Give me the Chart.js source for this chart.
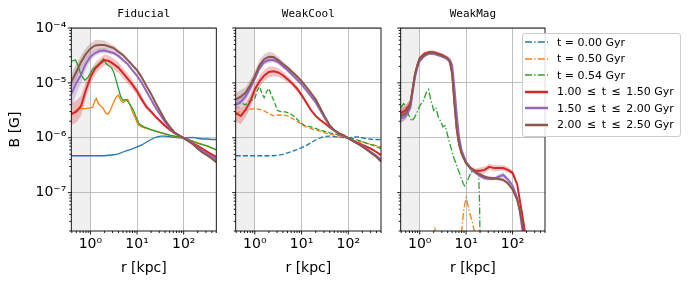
<!DOCTYPE html>
<html><head><meta charset="utf-8">
<script src="https://cdn.jsdelivr.net/npm/chart.js@4/dist/chart.umd.min.js"></script>
<style>
body{margin:0;background:#fff;width:691px;height:286px;overflow:hidden;position:relative;font-family:"DejaVu Sans",sans-serif;}
canvas{position:absolute;top:0;}
#legend{position:absolute;left:522px;top:33px;width:159px;height:104px;box-sizing:border-box;border:1px solid #cccccc;border-radius:3px;background:rgba(255,255,255,0.85);padding-top:0;}
.row{display:flex;align-items:center;height:16.5px;font-size:11px;white-space:pre;color:#000;}
.row svg{margin-left:2px;margin-right:9px;flex:none;}
</style></head><body>
<canvas id="c1" width="225" height="286" style="left:0"></canvas>
<canvas id="c2" width="165" height="286" style="left:225px"></canvas>
<canvas id="c3" width="160" height="286" style="left:390px"></canvas>
<div id="legend"></div>
<script>
// ---------- axes ----------
const X_MIN = 0.39, X_MAX = 500, Y_MIN = 2e-8, Y_MAX = 1e-4;
const SHADE_MAX = 1;
const X_TICKS = [1, 10, 100];
const X_LABELS = ['10\u2070', '10\u00b9', '10\u00b2'];
const Y_TICKS = [1e-7, 1e-6, 1e-5, 1e-4];
const Y_LABELS = ['10\u207b\u2077', '10\u207b\u2076', '10\u207b\u2075', '10\u207b\u2074'];
const PANEL_TITLES = ['Fiducial', 'WeakCool', 'WeakMag'];
const LEGEND_LABELS = ['t = 0.00 Gyr', 't = 0.50 Gyr', 't = 0.54 Gyr',
  '1.00\u2002\u2264\u2002t\u2002\u2264\u20021.50 Gyr',
  '1.50\u2002\u2264\u2002t\u2002\u2264\u20022.00 Gyr',
  '2.00\u2002\u2264\u2002t\u2002\u2264\u20022.50 Gyr'];

// ---------- radius grids (kpc) ----------
const R = [0.39,0.5,0.63,0.79,1,1.26,1.58,2,2.51,3.16,3.98,5.01,6.31,7.94,10,12.6,15.8,20,25.1,31.6,39.8,50.1,63.1,79.4,100,126,158,200,251,316,398,500];
const R3 = [0.39,0.5,0.63,0.71,0.79,0.89,1,1.26,1.58,2,2.51,3.16,3.98,4.47,5.01,5.62,6.31,7.08,7.94,10,12.6,15.8,20,25.1,31.6,39.8,50.1,63.1,79.4,100,126,141,158,178,200,224];

// ---------- Fiducial (B in G) ----------
const fidBlue = [4.7e-7,4.7e-7,4.7e-7,4.7e-7,4.7e-7,4.7e-7,4.7e-7,4.7e-7,4.8e-7,4.9e-7,5.1e-7,5.5e-7,5.9e-7,6.3e-7,6.8e-7,7.4e-7,8.3e-7,9.3e-7,1.02e-6,1.07e-6,1.07e-6,1.05e-6,1.02e-6,1.0e-6,1.0e-6,1.0e-6,1.02e-6,9.8e-7,9.5e-7,9.5e-7,9.3e-7,9.3e-7];
const fidOrangeR = [0.39,0.5,0.63,0.79,1,1.12,1.26,1.35,1.48,1.66,1.86,2.14,2.4,2.69,3.16,3.63,3.98,4.47,5.01,5.62,6.31,7.08,7.94,9.12,10.5,12.6,15.8,22.4,31.6,50.1,79.4,100,158,251,355,500];
const fidOrange = [2.6e-6,3.2e-6,3.4e-6,3.4e-6,3.5e-6,3.6e-6,4.8e-6,5.2e-6,4.2e-6,3.8e-6,3.5e-6,2.8e-6,2.7e-6,3.2e-6,4.5e-6,5.6e-6,6.0e-6,4.8e-6,4.4e-6,4.7e-6,5.0e-6,4.0e-6,3.0e-6,2.3e-6,1.74e-6,1.58e-6,1.48e-6,1.35e-6,1.23e-6,1.1e-6,1.02e-6,1.0e-6,8.7e-7,7.6e-7,6.8e-7,6.0e-7];
const fidGreenR = [0.39,0.48,0.54,0.63,0.76,0.89,1.12,1.41,1.66,1.91,2.14,2.4,2.82,3.16,3.55,3.98,4.47,5.01,5.89,7.08,8.32,9.55,11.2,14.1,20,31.6,50.1,100,200,316,500];
const fidGreen = [2.5e-5,2.6e-5,2.1e-5,1.4e-5,1.12e-5,1.26e-5,1.78e-5,2.1e-5,2.4e-5,2.75e-5,2.3e-5,2.1e-5,1.9e-5,1.58e-5,1.12e-5,7.9e-6,5.6e-6,4.8e-6,5.0e-6,4.0e-6,3.2e-6,2.4e-6,1.78e-6,1.58e-6,1.41e-6,1.26e-6,1.12e-6,1.0e-6,7.9e-7,7.1e-7,6.0e-7];
const fidRed = [2.7e-6,3.0e-6,3.8e-6,7.1e-6,1.26e-5,1.8e-5,2.2e-5,2.6e-5,2.5e-5,2.2e-5,1.9e-5,1.5e-5,1.2e-5,9.3e-6,7.1e-6,5.0e-6,3.7e-6,3.0e-6,2.4e-6,2.0e-6,1.66e-6,1.4e-6,1.23e-6,1.1e-6,1.0e-6,8.9e-7,7.9e-7,7.1e-7,6.3e-7,5.6e-7,5.0e-7,4.5e-7];
const fidPurple = [6.3e-6,1.0e-5,1.4e-5,2.2e-5,3.0e-5,3.5e-5,3.8e-5,3.9e-5,3.7e-5,3.5e-5,3.1e-5,2.6e-5,2.2e-5,1.7e-5,1.35e-5,1.0e-5,7.1e-6,5.0e-6,3.5e-6,2.6e-6,1.95e-6,1.5e-6,1.23e-6,1.1e-6,9.8e-7,8.9e-7,7.8e-7,6.6e-7,5.8e-7,5.1e-7,4.6e-7,4.0e-7];
const fidBrown = [1.05e-5,1.6e-5,2.4e-5,3.3e-5,4.2e-5,4.8e-5,4.9e-5,4.9e-5,4.6e-5,4.3e-5,3.7e-5,3.2e-5,2.6e-5,2.1e-5,1.7e-5,1.26e-5,8.9e-6,6.3e-6,4.3e-6,3.0e-6,2.1e-6,1.6e-6,1.26e-6,1.1e-6,9.8e-7,8.7e-7,7.6e-7,6.3e-7,5.4e-7,4.8e-7,4.2e-7,3.6e-7];
// band half-widths (dex)
const fidRedSpread = [0.2,0.2,0.18,0.15,0.12,0.11,0.1,0.1,0.1,0.1,0.1,0.09,0.09,0.08,0.07,0.06,0.05,0.04,0.03,0.03,0.02,0.02,0.02,0.02,0.02,0.02,0.02,0.02,0.02,0.02,0.02,0.02];
const fidPurpleSpread = [0.25,0.2,0.15,0.1,0.07,0.06,0.05,0.05,0.04,0.04,0.04,0.03,0.03,0.03,0.03,0.03,0.02,0.02,0.02,0.02,0.02,0.02,0.02,0.02,0.02,0.02,0.02,0.02,0.02,0.02,0.02,0.02];
const fidBrownSpread = [0.15,0.13,0.12,0.11,0.1,0.1,0.09,0.08,0.06,0.05,0.04,0.04,0.03,0.03,0.03,0.03,0.02,0.02,0.02,0.02,0.02,0.02,0.02,0.02,0.02,0.02,0.02,0.02,0.02,0.02,0.02,0.02];

// ---------- WeakCool ----------
const wkcBlue = [4.7e-7,4.7e-7,4.7e-7,4.7e-7,4.7e-7,4.7e-7,4.7e-7,4.7e-7,4.7e-7,4.8e-7,5.0e-7,5.3e-7,5.7e-7,6.1e-7,6.6e-7,7.2e-7,8.1e-7,9.1e-7,1.0e-6,1.06e-6,1.07e-6,1.05e-6,1.03e-6,1.01e-6,1.0e-6,1.02e-6,1.04e-6,1.0e-6,9.6e-7,9.4e-7,9.3e-7,9.2e-7];
const wkcOrange = [2.8e-6,3.0e-6,3.16e-6,3.3e-6,3.4e-6,3.3e-6,3.1e-6,2.75e-6,2.5e-6,2.6e-6,2.6e-6,2.5e-6,2.24e-6,2.0e-6,1.74e-6,1.58e-6,1.48e-6,1.38e-6,1.32e-6,1.23e-6,1.17e-6,1.12e-6,1.07e-6,1.02e-6,9.8e-7,9.1e-7,8.7e-7,8.3e-7,7.9e-7,7.6e-7,7.2e-7,6.8e-7];
const wkcGreenR = [0.39,0.5,0.63,0.79,1,1.12,1.26,1.41,1.58,1.78,2.0,2.24,2.63,3.02,3.55,4.47,5.62,7.08,8.91,11.2,15.8,25.1,39.8,63.1,100,158,251,398,500];
const wkcGreen = [4.0e-6,4.3e-6,4.0e-6,4.7e-6,5.2e-6,7.1e-6,8.5e-6,6.6e-6,5.4e-6,6.9e-6,7.9e-6,6.0e-6,4.5e-6,3.16e-6,3.0e-6,2.95e-6,2.8e-6,2.4e-6,2.0e-6,1.7e-6,1.58e-6,1.38e-6,1.23e-6,1.12e-6,1.02e-6,9.1e-7,7.9e-7,6.9e-7,6.3e-7];
const wkcRed = [2.8e-6,2.5e-6,3.2e-6,4.5e-6,7.6e-6,1.07e-5,1.35e-5,1.58e-5,1.62e-5,1.55e-5,1.38e-5,1.17e-5,9.8e-6,7.9e-6,6.0e-6,4.4e-6,3.2e-6,2.5e-6,2.1e-6,1.82e-6,1.55e-6,1.35e-6,1.2e-6,1.1e-6,9.8e-7,8.9e-7,8.1e-7,7.4e-7,6.8e-7,6.2e-7,5.5e-7,4.8e-7];
const wkcPurple = [4.0e-6,4.5e-6,5.6e-6,7.9e-6,1.2e-5,1.86e-5,2.4e-5,2.6e-5,2.6e-5,2.4e-5,2.0e-5,1.7e-5,1.41e-5,1.15e-5,9.3e-6,7.4e-6,5.75e-6,4.4e-6,3.16e-6,2.24e-6,1.66e-6,1.35e-6,1.17e-6,1.07e-6,9.8e-7,8.9e-7,7.9e-7,7.1e-7,6.2e-7,5.4e-7,4.7e-7,4.0e-7];
const wkcBrown = [5.0e-6,5.6e-6,6.6e-6,8.9e-6,1.32e-5,2.1e-5,2.7e-5,3.0e-5,2.95e-5,2.6e-5,2.2e-5,1.9e-5,1.58e-5,1.32e-5,1.07e-5,8.5e-6,6.6e-6,5.0e-6,3.5e-6,2.4e-6,1.7e-6,1.38e-6,1.2e-6,1.1e-6,9.8e-7,8.7e-7,7.8e-7,6.9e-7,6.0e-7,5.2e-7,4.5e-7,3.7e-7];
const wkcRedSpread = [0.15,0.15,0.13,0.12,0.1,0.1,0.1,0.1,0.09,0.08,0.07,0.06,0.05,0.05,0.04,0.04,0.03,0.03,0.02,0.02,0.02,0.02,0.02,0.02,0.02,0.02,0.02,0.02,0.02,0.02,0.02,0.02];
const wkcPurpleSpread = [0.1,0.1,0.08,0.07,0.06,0.05,0.05,0.05,0.04,0.04,0.03,0.03,0.03,0.02,0.02,0.02,0.02,0.02,0.02,0.02,0.02,0.02,0.02,0.02,0.02,0.02,0.02,0.02,0.02,0.02,0.02,0.02];
const wkcBrownSpread = [0.12,0.12,0.1,0.1,0.1,0.1,0.09,0.09,0.08,0.06,0.05,0.04,0.03,0.03,0.03,0.02,0.02,0.02,0.02,0.02,0.02,0.02,0.02,0.02,0.02,0.02,0.02,0.02,0.02,0.02,0.02,0.02];

// ---------- WeakMag ----------
const wkmBlue = [];
const wkmOrangeR = [1.9,2.14,2.4,7.08,7.94,8.91,10,10.7,11.7,13.2,15.5,17.8];
const wkmOrange = [1.0e-8,2.1e-8,1.0e-8,3e-9,1.8e-8,5.0e-8,8.1e-8,6.5e-8,4.5e-8,3.2e-8,1.8e-8,5e-9];
const wkmGreenR = [0.39,0.45,0.5,0.58,0.68,0.79,0.89,1,1.2,1.38,1.55,1.78,2.0,2.24,2.51,2.82,3.16,3.55,3.98,5.25,6.76,8.71,9.33,11.0,12.9,15.8,18.6,19.5,20.4];
const wkmGreen = [3.55e-6,4.2e-6,3.8e-6,2.6e-6,2.0e-6,2.4e-6,3.0e-6,3.8e-6,4.7e-6,6.6e-6,7.6e-6,4.5e-6,3.16e-6,3.55e-6,2.4e-6,2.0e-6,1.58e-6,1.66e-6,1.12e-6,4.7e-7,2.6e-7,1.45e-7,1.32e-7,1.74e-7,2.4e-7,2.4e-7,2.24e-7,6.3e-8,3.2e-9];
const wkmRed = [2.8e-6,3.16e-6,4.2e-6,7.9e-6,1.41e-5,2.1e-5,2.8e-5,3.4e-5,3.6e-5,3.6e-5,3.4e-5,3.16e-5,2.8e-5,2.5e-5,1.58e-5,4.5e-6,1.41e-6,7.6e-7,5.4e-7,3.55e-7,2.8e-7,2.5e-7,2.5e-7,2.6e-7,2.95e-7,2.8e-7,2.8e-7,2.8e-7,2.6e-7,2.3e-7,1.41e-7,7.9e-8,4.5e-8,2.4e-8,1.12e-8,null];
const wkmPurple = [2.24e-6,2.5e-6,3.55e-6,7.1e-6,1.26e-5,1.9e-5,2.5e-5,3.1e-5,3.4e-5,3.4e-5,3.2e-5,3.0e-5,2.8e-5,2.6e-5,2.1e-5,7.9e-6,2.5e-6,1.0e-6,6.0e-7,3.55e-7,2.75e-7,2.3e-7,2.0e-7,1.82e-7,1.78e-7,1.78e-7,1.95e-7,2.1e-7,1.74e-7,1.35e-7,7.9e-8,5.0e-8,2.5e-8,1.26e-8,null,null];
const wkmBrown = [2.5e-6,2.8e-6,4.0e-6,7.9e-6,1.41e-5,2.1e-5,2.7e-5,3.2e-5,3.55e-5,3.55e-5,3.3e-5,3.1e-5,2.75e-5,2.4e-5,1.41e-5,4.0e-6,1.41e-6,7.6e-7,5.2e-7,3.4e-7,2.75e-7,2.4e-7,2.14e-7,1.95e-7,1.86e-7,1.82e-7,1.78e-7,1.7e-7,1.48e-7,1.15e-7,7.4e-8,5.0e-8,3.16e-8,1.78e-8,7.9e-9,null];
const wkmRedSpread = [0.12,0.1,0.08,0.06,0.05,0.04,0.04,0.03,0.03,0.03,0.03,0.03,0.03,0.03,0.04,0.04,0.04,0.04,0.03,0.03,0.03,0.04,0.06,0.06,0.05,0.06,0.05,0.05,0.05,0.04,0.04,0.04,0.04,0.04,0.04,0.04];
const wkmPurpleSpread = [0.08,0.07,0.06,0.05,0.05,0.04,0.04,0.03,0.03,0.03,0.03,0.03,0.04,0.05,0.06,0.06,0.06,0.05,0.04,0.03,0.03,0.03,0.03,0.03,0.03,0.03,0.05,0.05,0.04,0.03,0.03,0.03,0.03,0.03,0.03,0.03];
const wkmBrownSpread = [0.12,0.12,0.1,0.08,0.07,0.06,0.05,0.04,0.04,0.04,0.04,0.04,0.05,0.06,0.07,0.07,0.06,0.05,0.04,0.03,0.03,0.03,0.03,0.03,0.03,0.03,0.03,0.03,0.03,0.03,0.03,0.03,0.03,0.03,0.03,0.03];

// ---------- styling ----------
const C = {blue:'#1f77b4', orange:'#ff7f0e', green:'#2ca02c', red:'#d62728', purple:'#9467bd', brown:'#8c564b'};
const BANDC = {red:'rgba(214,39,40,0.28)', purple:'rgba(148,103,189,0.28)', brown:'rgba(140,86,75,0.28)'};
const DASHED = [5, 2.2];
const DASHDOT = [7, 2.2, 1.4, 2.2];
Chart.defaults.font.family = '"DejaVu Sans", sans-serif';

function pts(xs, ys){ return xs.map((x,i)=>({x:x, y:(ys[i]==null?null:ys[i])})); }
function line(xs, ys, color, width, dash, order){
  return {data:pts(xs,ys), borderColor:color, borderWidth:width, borderDash:dash, pointRadius:0, fill:false, tension:0, order:order};
}
function band(xs, ys, sp, color){
  const hi = xs.map((x,i)=>({x:x, y:(ys[i]==null?null:ys[i]*Math.pow(10,sp[i]))}));
  const lo = xs.map((x,i)=>({x:x, y:(ys[i]==null?null:ys[i]/Math.pow(10,sp[i]))}));
  return [
    {data:hi, borderWidth:0, borderColor:'rgba(0,0,0,0)', pointRadius:0, fill:false, order:10},
    {data:lo, borderWidth:0, borderColor:'rgba(0,0,0,0)', pointRadius:0, fill:'-1', backgroundColor:color, order:10}
  ];
}

const X_MINOR = [], Y_MINOR = [];
for (const d of [0.1, 1, 10, 100]) for (let k=2;k<=9;k++){ const v=k*d; if (v>=X_MIN && v<=X_MAX) X_MINOR.push(v); }
for (const d of [1e-8,1e-7,1e-6,1e-5]) for (let k=2;k<=9;k++){ const v=k*d; if (v>=Y_MIN && v<=Y_MAX) Y_MINOR.push(v); }

const shadePlugin = {id:'shade', beforeDraw(chart){
  const {ctx, chartArea:a, scales:{x}} = chart;
  const xr = x.getPixelForValue(SHADE_MAX);
  ctx.save(); ctx.fillStyle = '#f0f0f0';
  ctx.fillRect(a.left, a.top, xr - a.left, a.bottom - a.top);
  ctx.restore();
}};
function framePlugin(title){ return {id:'frame', afterDraw(chart){
  const {ctx, chartArea:a, scales:{x,y}} = chart;
  ctx.save();
  ctx.strokeStyle = '#000'; ctx.lineWidth = 0.9;
  ctx.strokeRect(a.left, a.top, a.right - a.left, a.bottom - a.top);
  ctx.beginPath();
  const tick = (vals, len) => {
    for (const v of vals){ const p = x.getPixelForValue(v); ctx.moveTo(p, a.bottom); ctx.lineTo(p, a.bottom + len); }
  };
  const ytick = (vals, len) => {
    for (const v of vals){ const p = y.getPixelForValue(v); ctx.moveTo(a.left - len, p); ctx.lineTo(a.left, p); }
  };
  tick(X_MINOR, 2); tick(X_TICKS, 3.5); ytick(Y_MINOR, 2); ytick(Y_TICKS, 3.5);
  ctx.stroke();
  ctx.font = '11px "DejaVu Sans Mono"'; ctx.fillStyle = '#000';
  ctx.textAlign = 'center'; ctx.textBaseline = 'middle';
  ctx.fillText(title, (a.left + a.right) / 2, 14);
  ctx.restore();
}}; }

function makeChart(id, title, sets, showY, yWidth, padRight){
  return new Chart(document.getElementById(id), {
    type:'line',
    data:{datasets:sets},
    options:{
      responsive:false, animation:false, events:[],
      layout:{padding:{left:0, right:padRight, top:28, bottom:0}},
      plugins:{legend:{display:false}, tooltip:{enabled:false}, title:{display:false}},
      scales:{
        x:{type:'logarithmic', min:X_MIN, max:X_MAX,
          afterBuildTicks:s=>{ s.ticks = X_TICKS.map(v=>({value:v})); },
          afterFit:s=>{ s.height = 55; },
          ticks:{callback:(v,i)=>X_LABELS[i], autoSkip:false, maxRotation:0, minRotation:0, font:{size:14}, color:'#000', padding:5},
          grid:{color:'#b0b0b0', lineWidth:0.8, drawTicks:false},
          border:{display:false},
          title:{display:true, text:'r [kpc]', font:{size:14}, color:'#000', padding:{top:0, bottom:9}}},
        y:{type:'logarithmic', min:Y_MIN, max:Y_MAX,
          afterBuildTicks:s=>{ s.ticks = Y_TICKS.map(v=>({value:v})); },
          afterFit:s=>{ s.width = yWidth; },
          ticks:{display:showY, callback:(v,i)=>Y_LABELS[i], autoSkip:false, font:{size:14}, color:'#000', padding:5},
          grid:{color:'#b0b0b0', lineWidth:0.8, drawTicks:false},
          border:{display:false},
          title:{display:showY, text:'B [G]', font:{size:14}, color:'#000', padding:{top:7, bottom:0}}}
      }
    },
    plugins:[shadePlugin, framePlugin(title)]
  });
}

function panelSets(g, blue, orR, or, grR, gr, red, pur, bro, rs, ps, bs, dash){
  return [
    ...band(g, red, rs, BANDC.red),
    ...band(g, pur, ps, BANDC.purple),
    ...band(g, bro, bs, BANDC.brown),
    line(blue.length ? g : [], blue, C.blue, 1.3, dash, 5),
    line(orR, or, C.orange, 1.3, dash, 4),
    line(grR, gr, C.green, 1.3, dash, 3),
    line(g, red, C.red, 2, [], 2),
    line(g, pur, C.purple, 2, [], 1),
    line(g, bro, C.brown, 2, [], 0)
  ];
}

makeChart('c1', PANEL_TITLES[0], panelSets(R, fidBlue, fidOrangeR, fidOrange, fidGreenR, fidGreen, fidRed, fidPurple, fidBrown, fidRedSpread, fidPurpleSpread, fidBrownSpread, []), true, 71.3, 8.7);
makeChart('c2', PANEL_TITLES[1], panelSets(R, wkcBlue, R, wkcOrange, wkcGreenR, wkcGreen, wkcRed, wkcPurple, wkcBrown, wkcRedSpread, wkcPurpleSpread, wkcBrownSpread, DASHED), false, 10.7, 9);
makeChart('c3', PANEL_TITLES[2], panelSets(R3, wkmBlue, wkmOrangeR, wkmOrange, wkmGreenR, wkmGreen, wkmRed, wkmPurple, wkmBrown, wkmRedSpread, wkmPurpleSpread, wkmBrownSpread, DASHDOT), false, 10.7, 5);

// ---------- legend ----------
const LEG_COLORS = [C.blue, C.orange, C.green, C.red, C.purple, C.brown];
const leg = document.getElementById('legend');
LEGEND_LABELS.forEach((lab, i) => {
  const row = document.createElement('div'); row.className = 'row';
  const thick = i >= 3;
  const ns = 'http://www.w3.org/2000/svg';
  const svg = document.createElementNS(ns, 'svg');
  svg.setAttribute('width', '23'); svg.setAttribute('height', '6');
  const ln = document.createElementNS(ns, 'line');
  ln.setAttribute('x1','0'); ln.setAttribute('x2','23'); ln.setAttribute('y1','3'); ln.setAttribute('y2','3');
  ln.setAttribute('stroke', LEG_COLORS[i]);
  ln.setAttribute('stroke-width', thick ? '2.5' : '1.4');
  if (!thick) ln.setAttribute('stroke-dasharray', DASHDOT.join(' '));
  svg.appendChild(ln); row.appendChild(svg);
  const sp = document.createElement('span'); sp.textContent = lab; row.appendChild(sp);
  leg.appendChild(row);
});
</script>
</body></html>
